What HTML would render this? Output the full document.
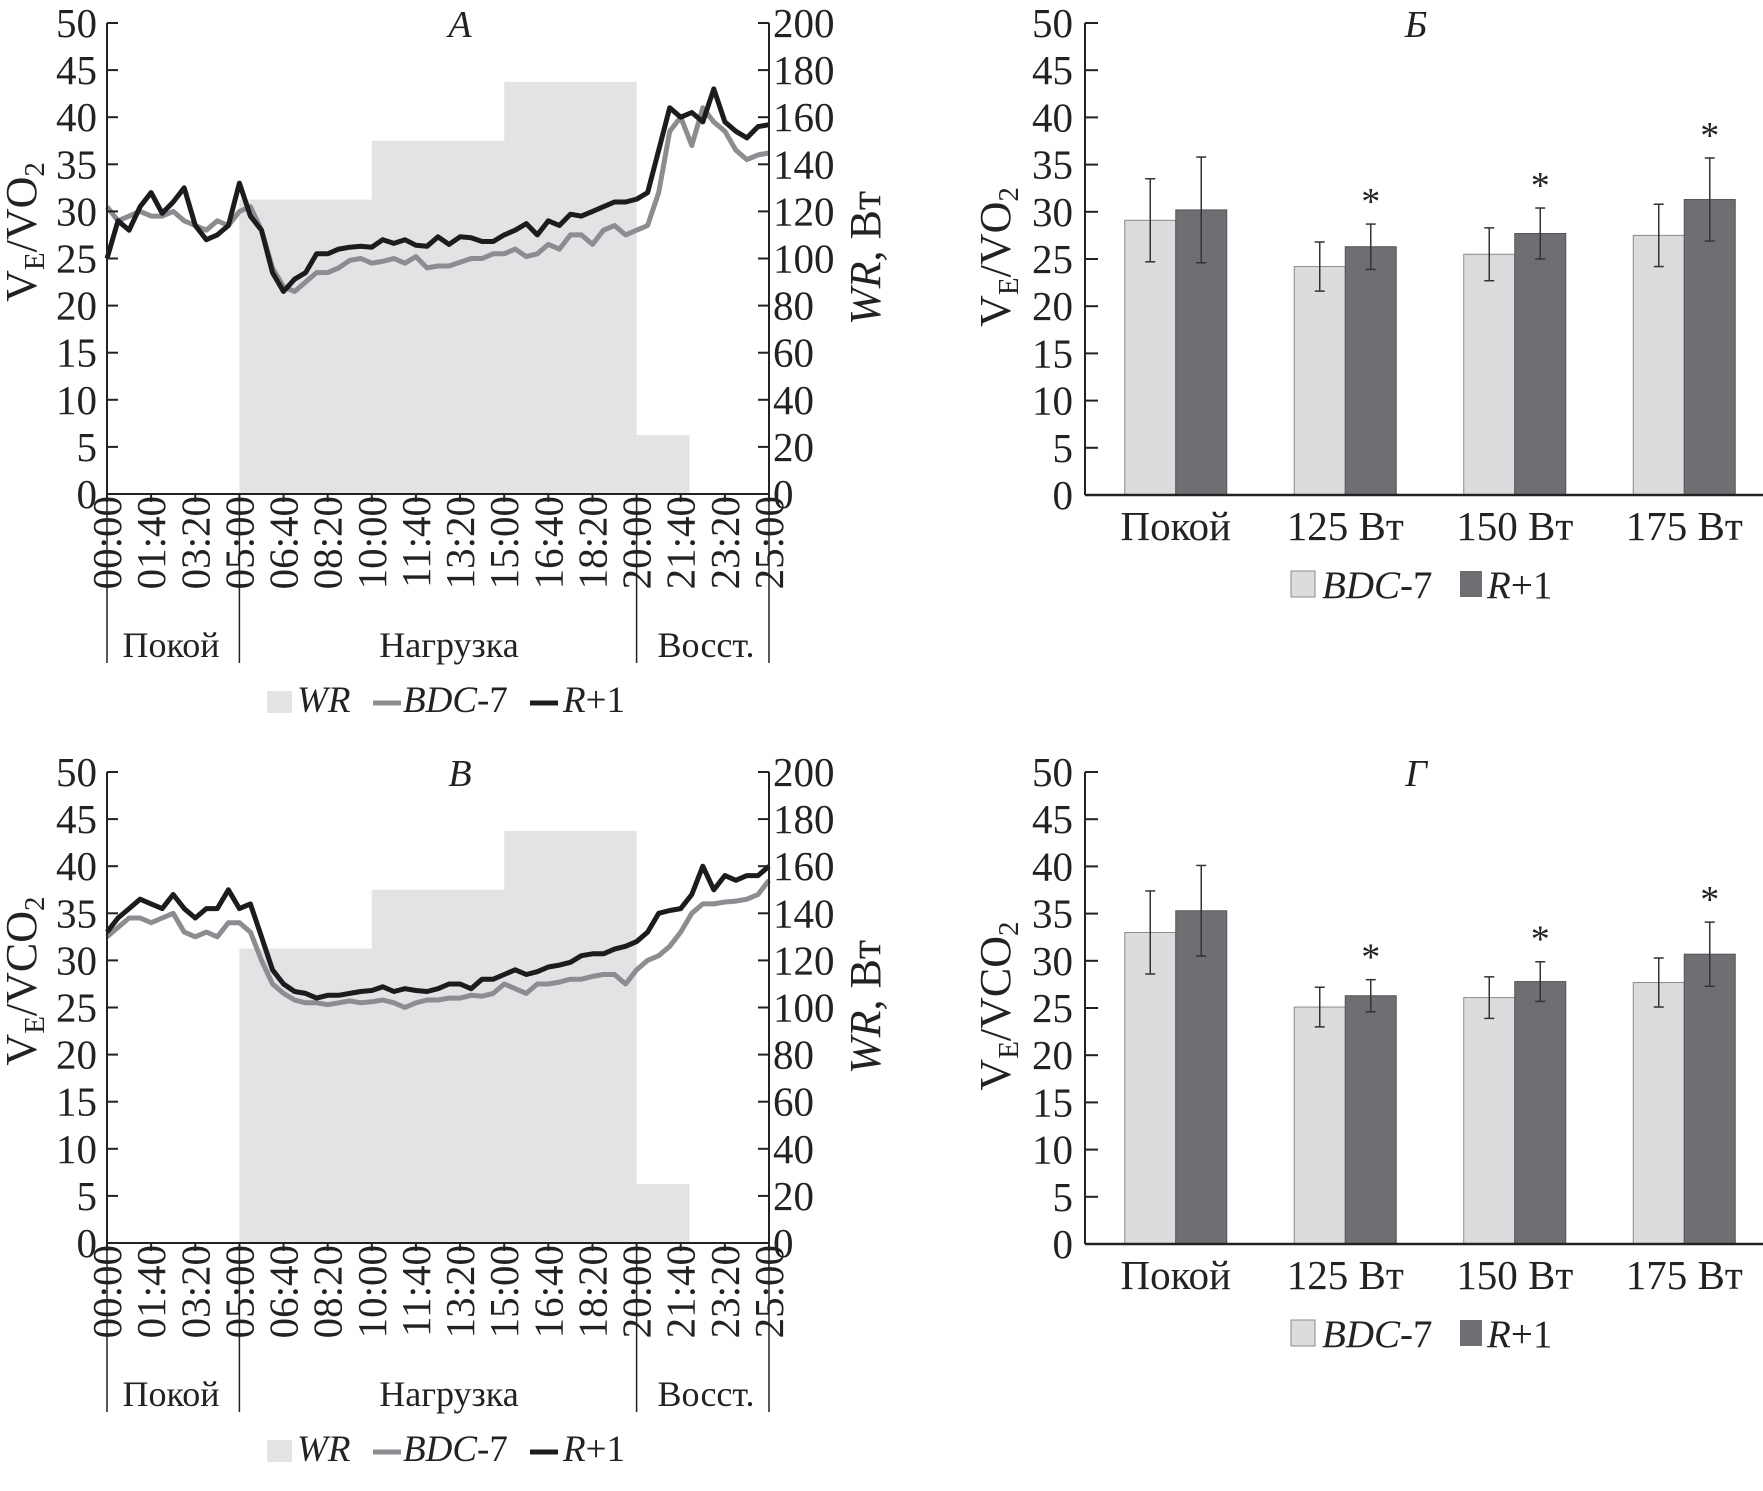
<!DOCTYPE html>
<html><head><meta charset="utf-8"><style>
body{margin:0;background:#fff}
svg, svg text{font-family:"Liberation Serif","Times New Roman",serif}
</style></head><body>
<svg id="root" width="1763" height="1486" viewBox="0 0 1763 1486" xmlns="http://www.w3.org/2000/svg" font-family="Liberation Serif, serif"></svg>
<script>
// ---- data ----
const timeTicks = ["00:00","01:40","03:20","05:00","06:40","08:20","10:00","11:40","13:20","15:00","16:40","18:20","20:00","21:40","23:20","25:00"];
const times = Array.from({length:61},(_, i)=>i*25);
const wrStart = [0,300,600,900,1200,1320];
const wrValue = [0,125,150,175,25,0];
const aBlack = [25,29,28,30.5,32,29.8,31,32.5,28.5,27,27.5,28.5,33,29.5,28,23.5,21.5,22.8,23.5,25.5,25.5,26,26.2,26.3,26.2,27,26.6,27,26.4,26.3,27.3,26.5,27.3,27.2,26.8,26.8,27.5,28,28.7,27.5,29,28.5,29.7,29.5,30,30.5,31,31,31.3,32,36.5,41,40,40.5,39.5,43,39.5,38.5,37.8,39,39.2];
const aGray = [30.5,29,29.5,30,29.5,29.5,30,29,28.5,28,29,28.5,30,30.5,28,24,22,21.5,22.5,23.5,23.5,24,24.8,25,24.5,24.7,25,24.5,25.2,24,24.2,24.2,24.6,25,25,25.5,25.5,26,25.2,25.5,26.5,26,27.5,27.5,26.5,28,28.5,27.5,28,28.5,32,38.5,40,37,41,39.5,38.5,36.5,35.5,36,36.2];
const cBlack = [33,34.5,35.5,36.5,36,35.5,37,35.5,34.5,35.5,35.5,37.5,35.5,36,32.5,29,27.5,26.7,26.5,26,26.3,26.3,26.5,26.7,26.8,27.2,26.7,27,26.8,26.7,27,27.5,27.5,27,28,28,28.5,29,28.5,28.8,29.3,29.5,29.8,30.5,30.7,30.7,31.2,31.5,32,33,35,35.3,35.5,37,40,37.5,39,38.5,39,39,40];
const cGray = [32.5,33.5,34.5,34.5,34,34.5,35,33,32.5,33,32.5,34,34,33,30,27.5,26.5,25.8,25.5,25.5,25.3,25.5,25.7,25.5,25.6,25.8,25.5,25,25.5,25.8,25.8,26,26,26.3,26.2,26.5,27.5,27,26.5,27.5,27.5,27.7,28,28,28.3,28.5,28.5,27.5,29,30,30.5,31.5,33,35,36,36,36.2,36.3,36.5,37,38.5];
const categories = ["Покой","125 Вт","150 Вт","175 Вт"];
const bBdc = [29.1,24.2,25.5,27.5];
const bBdcErr = [4.4,2.6,2.8,3.3];
const bR1 = [30.2,26.3,27.7,31.3];
const bR1Err = [5.6,2.4,2.7,4.4];
const gBdc = [33.0,25.1,26.1,27.7];
const gBdcErr = [4.4,2.1,2.2,2.6];
const gR1 = [35.3,26.3,27.8,30.7];
const gR1Err = [4.8,1.7,2.1,3.4];
const stars = [false,true,true,true];
const yTicks = [0,5,10,15,20,25,30,35,40,45,50];
const wrTicks = [0,20,40,60,80,100,120,140,160,180,200];

const NS="http://www.w3.org/2000/svg";
const root=document.getElementById('root');
function mk(tag,attrs,parent,txt){const e=document.createElementNS(NS,tag);for(const k in attrs)e.setAttribute(k,attrs[k]);if(txt!==undefined)e.textContent=txt;(parent||root).appendChild(e);return e;}

function linePanel(off,title,ylab1,blk,gry){
  const g=mk('g',{});
  
  
  const X0=107,X1=769,Y0=494+off,YT=23+off;
  const xs=t=>X0+t/1500*(X1-X0);
  const ys=v=>Y0-v/50*(Y0-YT);
  const yw=w=>Y0-w/200*(Y0-YT);
  for(let i=0;i<wrStart.length-1;i++){
    if(wrValue[i]<=0)continue;
    const r=mk('rect',{x:xs(wrStart[i]),y:yw(wrValue[i]),width:xs(wrStart[i+1])-xs(wrStart[i]),height:Y0-yw(wrValue[i]),fill:'#e2e3e5'},g);
    
    
  }
  const pg=times.map((t,i)=>xs(t).toFixed(1)+','+ys(gry[i]).toFixed(1)).join(' ');
  const l1=mk('polyline',{points:pg,fill:'none',stroke:'#8c8d90','stroke-width':5,'stroke-linejoin':'round'},g);
  
  
  const pb=times.map((t,i)=>xs(t).toFixed(1)+','+ys(blk[i]).toFixed(1)).join(' ');
  const l2=mk('polyline',{points:pb,fill:'none',stroke:'#1c1c1e','stroke-width':5,'stroke-linejoin':'round'},g);
  
  
  mk('line',{x1:X0,y1:YT,x2:X0,y2:Y0,stroke:'#222','stroke-width':2},g);
  mk('line',{x1:X1,y1:YT,x2:X1,y2:Y0,stroke:'#222','stroke-width':2},g);
  mk('line',{x1:X0,y1:Y0,x2:X1,y2:Y0,stroke:'#222','stroke-width':2},g);
  yTicks.forEach(v=>{
    mk('line',{x1:X0,y1:ys(v),x2:X0+11,y2:ys(v),stroke:'#222','stroke-width':2},g);
    const t=mk('text',{x:X0-10,y:ys(v)+14,'text-anchor':'end','font-size':41,fill:'#222'},g,v);
    
    
  });
  wrTicks.forEach(v=>{
    mk('line',{x1:X1-11,y1:yw(v),x2:X1,y2:yw(v),stroke:'#222','stroke-width':2},g);
    const t=mk('text',{x:X1+4,y:yw(v)+14,'font-size':41,fill:'#222'},g,v);
    
    
  });
  timeTicks.forEach((s,i)=>{
    const x=X0+i*(X1-X0)/15;
    mk('line',{x1:x,y1:Y0,x2:x,y2:Y0+8,stroke:'#222','stroke-width':2},g);
    const t=mk('text',{x:0,y:0,'text-anchor':'end','font-size':41,fill:'#222',transform:`translate(${x+14},${Y0+2}) rotate(-90)`},g,s);
    
    
  });
  [0,300,1200,1500].forEach(t=>mk('line',{x1:xs(t),y1:Y0,x2:xs(t),y2:663+off,stroke:'#222','stroke-width':1.5},g));
  [["Покой",171],["Нагрузка",449],["Восст.",706]].forEach(p=>{
    const t=mk('text',{x:p[1],y:657+off,'text-anchor':'middle','font-size':36,fill:'#222'},g,p[0]);
    
    
  });
  const tt=mk('text',{x:460,y:37+off,'text-anchor':'middle','font-size':38,'font-style':'italic',fill:'#222'},g,title);
  
  
  const yt=mk('text',{x:0,y:0,'text-anchor':'middle','font-size':44,fill:'#222',transform:`translate(36,${232+off}) rotate(-90)`},g);
  
  
  mk('tspan',{},yt,'V');mk('tspan',{'font-size':29,dy:8},yt,'E');mk('tspan',{dy:-8},yt,ylab1);mk('tspan',{'font-size':29,dy:8},yt,'2');
  const wt=mk('text',{x:0,y:0,'text-anchor':'middle','font-size':44,fill:'#222',transform:`translate(880,${258+off}) rotate(-90)`},g);
  
  
  mk('tspan',{'font-style':'italic'},wt,'WR');mk('tspan',{},wt,', Вт');
  const lg=mk('g',{},g);
  
  
  mk('rect',{x:267,y:691+off,width:25,height:22,fill:'#e2e3e5'},lg);
  mk('text',{x:297,y:712+off,'font-size':37,'font-style':'italic',fill:'#222'},lg,'WR');
  mk('line',{x1:373,y1:703+off,x2:401,y2:703+off,stroke:'#8c8d90','stroke-width':5},lg);
  const t2=mk('text',{x:403,y:712+off,'font-size':37,fill:'#222'},lg);
  mk('tspan',{'font-style':'italic'},t2,'BDC');mk('tspan',{},t2,'-7');
  mk('line',{x1:530,y1:703+off,x2:558,y2:703+off,stroke:'#1c1c1e','stroke-width':5},lg);
  const t3=mk('text',{x:563,y:712+off,'font-size':37,fill:'#222'},lg);
  mk('tspan',{'font-style':'italic'},t3,'R');mk('tspan',{},t3,'+1');
}

function barPanel(off,title,ylab1,bdc,bdcErr,r1,r1Err){
  const g=mk('g',{});
  
  
  const X0=1085,X1=1763,Y0=495+off,YT=23+off;
  const ys=v=>Y0-v/50*(Y0-YT);
  const band=i=>1091+169.5*(i+0.5);
  const BW=51;
  categories.forEach((c,i)=>{
    const cx=band(i);
    const b1=mk('rect',{x:cx-BW,y:ys(bdc[i]),width:BW,height:Y0-ys(bdc[i]),fill:'#dcdcde',stroke:'#8a8a8a','stroke-width':1},g);
    
    
    const b2=mk('rect',{x:cx,y:ys(r1[i]),width:BW,height:Y0-ys(r1[i]),fill:'#6e6f73',stroke:'#555','stroke-width':1},g);
    
    
    [[cx-BW/2,bdc[i],bdcErr[i]],[cx+BW/2,r1[i],r1Err[i]]].forEach(e=>{
      const eg=mk('g',{stroke:'#333','stroke-width':1.5},g);
      
      
      mk('line',{x1:e[0],y1:ys(e[1]+e[2]),x2:e[0],y2:ys(e[1]-e[2])},eg);
      mk('line',{x1:e[0]-5,y1:ys(e[1]+e[2]),x2:e[0]+5,y2:ys(e[1]+e[2])},eg);
      mk('line',{x1:e[0]-5,y1:ys(e[1]-e[2]),x2:e[0]+5,y2:ys(e[1]-e[2])},eg);
    });
    if(stars[i]){
      const s=mk('text',{x:cx+BW/2,y:ys(r1[i]+r1Err[i])-10,'text-anchor':'middle','font-size':38,fill:'#222'},g,'*');
      
      
    }
    const t=mk('text',{x:cx,y:540+off,'text-anchor':'middle','font-size':41,fill:'#222'},g,c);
    
    
  });
  mk('line',{x1:X0,y1:YT,x2:X0,y2:Y0,stroke:'#222','stroke-width':2},g);
  mk('line',{x1:X0,y1:Y0,x2:X1,y2:Y0,stroke:'#222','stroke-width':2.5},g);
  yTicks.forEach(v=>{
    mk('line',{x1:X0,y1:ys(v),x2:X0+13,y2:ys(v),stroke:'#222','stroke-width':2},g);
    const t=mk('text',{x:X0-12,y:ys(v)+14,'text-anchor':'end','font-size':41,fill:'#222'},g,v);
    
    
  });
  const tt=mk('text',{x:1416,y:37+off,'text-anchor':'middle','font-size':38,'font-style':'italic',fill:'#222'},g,title);
  
  
  const yt=mk('text',{x:0,y:0,'text-anchor':'middle','font-size':44,fill:'#222',transform:`translate(1010,${257+off}) rotate(-90)`},g);
  
  
  mk('tspan',{},yt,'V');mk('tspan',{'font-size':29,dy:8},yt,'E');mk('tspan',{dy:-8},yt,ylab1);mk('tspan',{'font-size':29,dy:8},yt,'2');
  const lg=mk('g',{},g);
  
  
  mk('rect',{x:1291,y:571+off,width:24,height:26,fill:'#dcdcde',stroke:'#8a8a8a'},lg);
  const t2=mk('text',{x:1322,y:598+off,'font-size':39,fill:'#222'},lg);
  mk('tspan',{'font-style':'italic'},t2,'BDC');mk('tspan',{},t2,'-7');
  mk('rect',{x:1460,y:571+off,width:22,height:26,fill:'#6e6f73'},lg);
  const t3=mk('text',{x:1487,y:598+off,'font-size':39,fill:'#222'},lg);
  mk('tspan',{'font-style':'italic'},t3,'R');mk('tspan',{},t3,'+1');
}

linePanel(0,'А','/VO',aBlack,aGray);
linePanel(749,'В','/VCO',cBlack,cGray);
barPanel(0,'Б','/VO',bBdc,bBdcErr,bR1,bR1Err);
barPanel(749,'Г','/VCO',gBdc,gBdcErr,gR1,gR1Err);
</script>
</body></html>
